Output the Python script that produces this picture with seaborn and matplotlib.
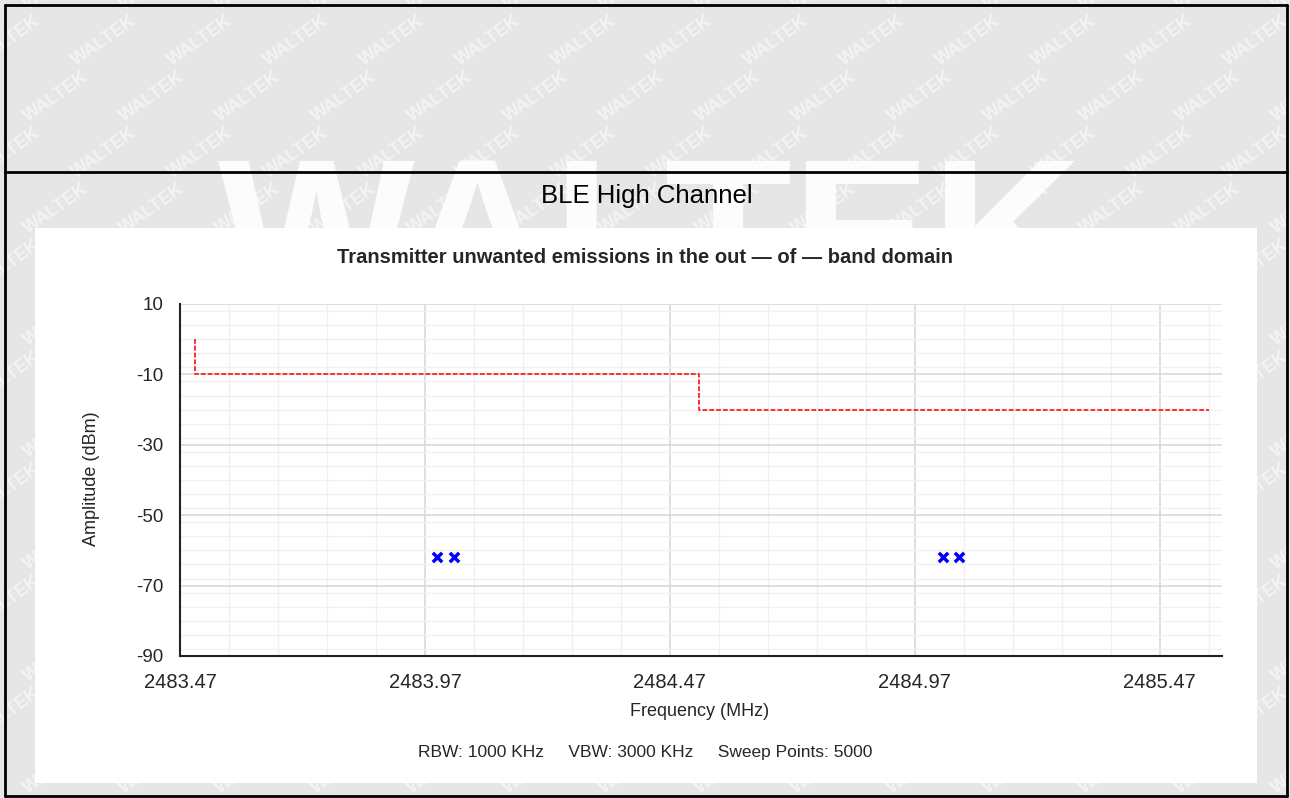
import numpy as np
import pandas as pd
import matplotlib
matplotlib.use("Agg")
import matplotlib.pyplot as plt
from matplotlib.patches import Rectangle
from matplotlib.lines import Line2D
from matplotlib.ticker import MultipleLocator, FixedLocator
import seaborn as sns

# ---- data ----
limit_freq = [2483.5, 2483.5, 2484.53, 2484.53, 2485.57]
limit_level = [0, -10, -10, -20, -20]
peak_freq = [2483.995, 2484.03, 2485.027, 2485.061]
peak_level = [-62, -62, -62, -62]
x_ticks = [2483.47, 2483.97, 2484.47, 2484.97, 2485.47]
y_ticks = [10, -10, -30, -50, -70, -90]

sns.set_theme(style="white")
plt.rcParams['font.family'] = ['Liberation Sans', 'DejaVu Sans']

W, H = 1290, 798
fig = plt.figure(figsize=(W / 100, H / 100), dpi=100)
fig.patch.set_facecolor('#e6e6e6')

def fx(px):
    return px / W

def fy(py):
    return 1 - py / H

# watermark small texts
for r, yy in enumerate(np.arange(-15, 830, 56)):
    off = (r % 2) * 48
    for xx in np.arange(-40 + off, 1340, 96):
        fig.text(fx(xx), fy(yy), "WALTEK", rotation=35, color='white', alpha=0.55,
                 fontsize=13, fontweight='bold', ha='center', va='center', zorder=0)
# big watermark
fig.text(fx(650), fy(250), "WALTEK", color='white', alpha=0.9, fontsize=150,
         fontweight='bold', ha='center', va='center', zorder=0)

# white panel
fig.patches.append(Rectangle((fx(35), fy(783)), fx(1257) - fx(35), fy(228) - fy(783),
                             transform=fig.transFigure, facecolor='white', edgecolor='none', zorder=1))

# borders
for (x0, y0, x1, y1) in [(5, 5, 1287, 5), (5, 172, 1287, 172), (5, 796, 1287, 796),
                         (5, 5, 5, 796), (1287, 5, 1287, 796)]:
    fig.add_artist(Line2D([fx(x0), fx(x1)], [fy(y0), fy(y1)], transform=fig.transFigure,
                          color='black', lw=2, zorder=5))

fig.text(fx(647), fy(196), "BLE High Channel", ha='center', va='center', fontsize=18.5, color='black', zorder=6)

ax = fig.add_axes([fx(180), fy(656), fx(1222) - fx(180), fy(304) - fy(656)])
ax.set_zorder(3)
ax.set_facecolor('white')

limit_df = pd.DataFrame({'freq': limit_freq, 'level': limit_level})
peak_df = pd.DataFrame({'freq': peak_freq, 'level': peak_level})

sns.lineplot(data=limit_df, x='freq', y='level', sort=False, estimator=None, ax=ax,
             color='#ff3030', lw=1.4, linestyle=(0, (2.5, 1)), zorder=4)
sns.scatterplot(data=peak_df, x='freq', y='level', ax=ax, marker='x', color='#0000ff',
                s=45, linewidth=2.5, zorder=5)

ax.set_xlim(2483.47, 2485.597)
ax.set_ylim(-90, 10)
ax.xaxis.set_major_locator(FixedLocator(x_ticks))
ax.xaxis.set_minor_locator(FixedLocator(np.round(np.arange(2483.47, 2485.6, 0.1), 2)))
ax.yaxis.set_major_locator(FixedLocator(y_ticks))
ax.yaxis.set_minor_locator(MultipleLocator(4))
ax.set_xticklabels([f"{v:.2f}" for v in x_ticks], fontsize=14.5)
ax.set_yticklabels([str(v) for v in y_ticks], fontsize=13.5)
ax.grid(which='major', color='#d9d9d9', lw=1.2)
ax.grid(which='minor', color='#f0f0f0', lw=1.0)
ax.set_axisbelow(True)
for s in ['top', 'right']:
    ax.spines[s].set_visible(False)
for s in ['left', 'bottom']:
    ax.spines[s].set_color('#222222')
    ax.spines[s].set_linewidth(1.5)
ax.tick_params(axis='y', which='major', direction='out', length=8, width=1.5, color='#222222', pad=4)
ax.tick_params(axis='x', which='major', direction='out', length=5, width=1.2, color='#222222', pad=7)
ax.tick_params(which='minor', length=0)
ax.set_xlabel("")
ax.set_ylabel("")

fig.text(fx(645), fy(258), "Transmitter unwanted emissions in the out \u2014 of \u2014 band domain",
         ha='center', va='center', fontsize=14.5, fontweight='bold', zorder=6)
fig.text(fx(91), fy(479), "Amplitude (dBm)", rotation=90, ha='center', va='center', fontsize=13, zorder=6)
fig.text(fx(700), fy(712), "Frequency (MHz)", ha='center', va='center', fontsize=13, zorder=6)
fig.text(fx(645), fy(753), "RBW: 1000 KHz     VBW: 3000 KHz     Sweep Points: 5000",
         ha='center', va='center', fontsize=12.5, zorder=6)

fig.savefig("out.png", dpi=100, facecolor=fig.get_facecolor())
